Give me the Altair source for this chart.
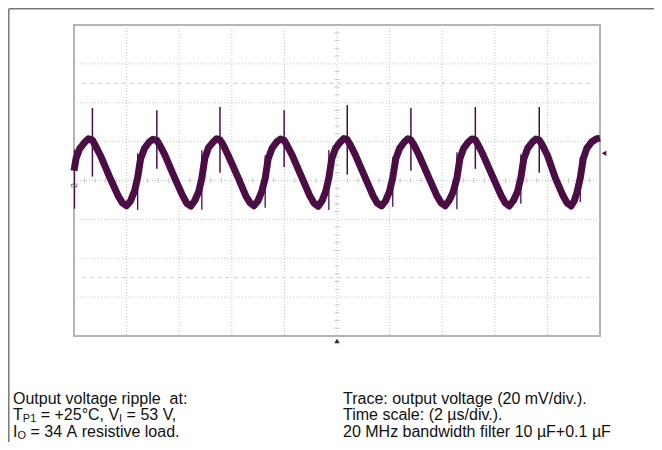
import altair as alt
import pandas as pd

# ---------------- data (time in µs, voltage in mV) ----------------
trace_t = [
    0.00, 0.08, 0.22, 0.40, 0.55, 0.70,
    0.81, 1.00, 1.38, 1.69, 1.84, 1.99, 2.14, 2.30,
    2.42, 2.53, 2.68, 2.86, 3.00, 3.15,
    3.26, 3.45, 3.83, 4.13, 4.29, 4.44, 4.59, 4.74,
    4.86, 4.97, 5.11, 5.28, 5.42, 5.55,
    5.67, 5.86, 6.24, 6.54, 6.69, 6.84, 6.99, 7.14,
    7.27, 7.38, 7.53, 7.71, 7.85, 7.99,
    8.10, 8.29, 8.67, 8.97, 9.13, 9.28, 9.43, 9.57,
    9.69, 9.80, 9.95, 10.12, 10.26, 10.39,
    10.51, 10.70, 11.08, 11.38, 11.53, 11.69, 11.84, 11.99,
    12.12, 12.23, 12.38, 12.56, 12.69, 12.81,
    12.93, 13.12, 13.50, 13.80, 13.96, 14.11, 14.26, 14.42,
    14.56, 14.67, 14.82, 15.00, 15.13, 15.26,
    15.37, 15.56, 15.94, 16.25, 16.40, 16.55, 16.70, 16.86,
    16.99, 17.10, 17.25, 17.43, 17.56, 17.69,
    17.81, 18.00, 18.30, 18.60, 18.75, 18.90, 19.02, 19.13,
    19.25, 19.36, 19.50, 19.68, 19.86, 20.00,
]
trace_v = [
    5.0, 11.5, 16.5, 19.5, 21.5, 20.8,
    18.0, 13.0, 1.0, -8.2, -11.5, -13.0, -10.8, -5.5,
    1.5, 11.0, 16.5, 19.8, 21.2, 20.6,
    18.2, 13.3, 1.2, -7.8, -11.8, -13.2, -10.4, -5.8,
    1.0, 11.2, 16.8, 19.6, 21.5, 20.9,
    18.4, 13.0, 1.5, -8.1, -11.4, -13.0, -10.6, -5.6,
    1.2, 11.0, 16.6, 19.9, 21.3, 20.7,
    18.1, 13.2, 1.3, -8.0, -11.7, -13.3, -10.5, -5.7,
    1.3, 11.1, 16.7, 19.7, 21.6, 21.0,
    18.3, 13.1, 1.2, -8.1, -11.6, -13.1, -10.6, -5.9,
    1.4, 11.0, 16.5, 19.8, 21.4, 20.8,
    18.2, 13.0, 1.2, -7.9, -11.5, -13.0, -10.4, -5.8,
    1.2, 11.1, 16.7, 19.9, 21.4, 20.9,
    18.3, 13.1, 1.3, -8.0, -11.6, -13.1, -10.5, -5.9,
    1.3, 11.0, 16.6, 19.8, 21.3, 20.8,
    18.2, 13.0, 1.3, -8.0, -11.6, -13.1, -10.5, -5.9,
    1.3, 11.0, 16.6, 19.8, 21.4, 21.8,
]

# switching spikes at the top of each hump
peak_spike_t = [0.70, 3.15, 5.55, 7.99, 10.39, 12.81, 15.26, 17.69]
peak_spike_top = [37.3, 36.2, 37.8, 36.2, 38.8, 37.3, 37.8, 37.8]
peak_spike_bot = [2.0, 6.0, 4.0, 7.0, 3.0, 5.0, 6.0, 4.0]

# spikes on the rising edges
edge_spike_t = [0.02, 2.42, 4.86, 7.27, 9.69, 12.12, 14.56, 16.99, 19.25]
edge_spike_top = [16.0, 14.0, 15.5, 13.0, 15.7, 12.0, 14.5, 13.5, 12.0]
edge_spike_bot = [-14.5, -15.2, -15.0, -14.0, -15.2, -13.5, -14.8, -12.0, -11.0]

# graticule
grid_t = [2, 4, 6, 8, 10, 12, 14, 16, 18]
grid_v = [-60, -40, -20, 0, 20, 40, 60]
dashed_v = [50, -50]
minor_v = [v for v in range(-76, 80, 4) if v % 20 != 0]
minor_t = [round(i * 0.4, 1) for i in range(1, 50) if i % 5 != 0]
trigger_level = [14.0]

TRACE = "#4a0e45"
FONT = "Liberation Sans"
GRID = "#c6c6c6"

xs = alt.Scale(domain=[0, 20], nice=False, zero=False)
ys = alt.Scale(domain=[-80, 80], nice=False, zero=False)


def X(f="t"):
    return alt.X(f + ":Q", scale=xs, axis=None)


def Y(f="v"):
    return alt.Y(f + ":Q", scale=ys, axis=None)


trace_df = pd.DataFrame({"t": trace_t, "v": trace_v})
peak_df = pd.DataFrame({"t": peak_spike_t, "top": peak_spike_top, "bot": peak_spike_bot})
edge_df = pd.DataFrame({"t": edge_spike_t, "top": edge_spike_top, "bot": edge_spike_bot})

vgrid = alt.Chart(pd.DataFrame({"t": grid_t})).mark_rule(color=GRID, strokeDash=[1, 2], strokeWidth=1).encode(x=X())
hgrid = alt.Chart(pd.DataFrame({"v": grid_v})).mark_rule(color=GRID, strokeDash=[1, 2], strokeWidth=1).encode(y=Y())

dashed = alt.Chart(pd.DataFrame({"v": dashed_v})).mark_rule(color="#c4c4c4", strokeDash=[3, 5], strokeWidth=1).encode(
    y=Y(), x=alt.value(8), x2=alt.value(520),
)

vticks = alt.Chart(pd.DataFrame({"t": [10.0] * len(minor_v), "v": minor_v})).mark_tick(
    orient="horizontal", size=5, thickness=1, color="#b0b0b0").encode(x=X(), y=Y())
hticks = alt.Chart(pd.DataFrame({"t": minor_t, "v": [0.0] * len(minor_t)})).mark_tick(
    orient="vertical", size=5, thickness=1, color="#b0b0b0").encode(x=X(), y=Y())

line = alt.Chart(trace_df).mark_line(color=TRACE, strokeWidth=7, strokeJoin="round", strokeCap="butt").encode(
    x=X(), y=Y()
)
peaks = alt.Chart(peak_df).mark_rule(color=TRACE, strokeWidth=1.5).encode(x=X(), y=Y("top"), y2="bot:Q")
edges = alt.Chart(edge_df).mark_rule(color=TRACE, strokeWidth=1.3).encode(x=X(), y=Y("top"), y2="bot:Q")

trig_bottom = alt.Chart(pd.DataFrame({"t": [10.0], "v": [-80.0]})).mark_point(
    shape="triangle-up", filled=True, size=28, color=TRACE, yOffset=5, opacity=1
).encode(x=X(), y=Y())
trig_right = alt.Chart(pd.DataFrame({"t": [20.0], "v": trigger_level})).mark_point(
    shape="triangle-left", filled=True, size=28, color=TRACE, xOffset=4, opacity=1
).encode(x=X(), y=Y())
ch_marker = alt.Chart(pd.DataFrame({"t": [0.0], "v": [0.0]})).mark_text(
    text="2", fontSize=9, angle=270, color="#555555", dx=-5, font=FONT
).encode(x=X(), y=Y())

# outer frame of the figure
border_v = alt.Chart(pd.DataFrame({"a": [0]})).mark_rule(color="#777777", strokeWidth=1.5).encode(
    x=alt.value(-65.2), y=alt.value(-16.2), y2=alt.value(430))
border_h = alt.Chart(pd.DataFrame({"a": [0]})).mark_rule(color="#777777", strokeWidth=1.5).encode(
    x=alt.value(-65.2), x2=alt.value(600), y=alt.value(-16.2))

FS = 16
SUB = 11
NB = "\u00a0"


def txt(s, x, y, size=FS, dy=0):
    return alt.Chart(pd.DataFrame({"a": [0]})).mark_text(
        text=s.replace(" ", NB), align="left", baseline="alphabetic", fontSize=size, font=FONT,
        color="#111111", dy=dy
    ).encode(x=alt.value(x), y=alt.value(y))


L = -61
R = 269
B1, B2, B3 = 379, 395, 412
texts = [
    txt("Output voltage ripple  at:", L, B1),
    txt("T", L, B2),
    txt("P1", L + 9.8, B2, SUB, 2),
    txt("= +25°C, V", L + 27.7, B2),
    txt("I", L + 106.1, B2, SUB, 2),
    txt("= 53 V,", L + 113.6, B2),
    txt("I", L, B3),
    txt("O", L + 4.45, B3, SUB, 2),
    txt("= 34 A resistive load.", L + 17.5, B3),
    txt("Trace: output voltage (20 mV/div.).", R, B1),
    txt("Time scale: (2 µs/div.).", R, B2),
    txt("20 MHz bandwidth filter 10 µF+0.1 µF", R, B3),
]

chart = alt.layer(
    vgrid, hgrid, dashed, vticks, hticks, line, peaks, edges, trig_bottom, trig_right, ch_marker,
    border_v, border_h, *texts
).properties(
    width=526, height=311,
    autosize=alt.AutoSizeParams(type="none"),
    padding={"left": 66, "top": 17, "right": 54, "bottom": 106},
).configure_view(stroke="#b4b4b4", strokeWidth=2)

chart.save("out.html", embed_options={"renderer": "svg", "actions": False})
